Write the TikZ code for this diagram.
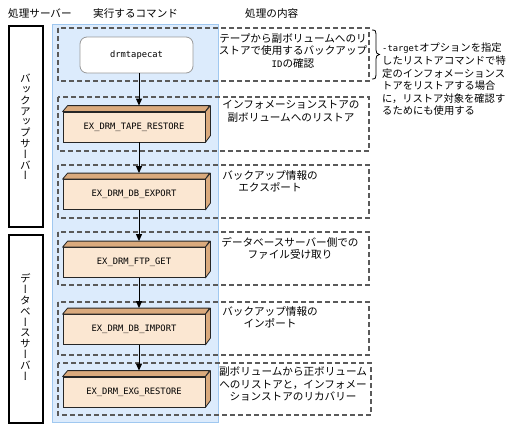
\documentclass[tikz,border=0pt]{standalone}
\usepackage{fontspec}
\setmainfont{Noto Sans CJK JP}
\newfontfamily\monofont{DejaVu Sans Mono}
\newfontfamily\vertfont[RawFeature=+vert]{Noto Sans CJK JP}
\usetikzlibrary{arrows.meta,calc}
\definecolor{bgblue}{RGB}{220,235,252}
\definecolor{bgborder}{RGB}{160,200,240}
\definecolor{peach}{RGB}{251,231,210}
\definecolor{tan}{RGB}{218,170,125}
\definecolor{dashgray}{RGB}{90,90,90}
\tikzset{
  txt/.style={inner sep=0pt, font=\fontsize{10.6pt}{12.5pt}\selectfont, align=center},
  cmd/.style={draw=black!85, fill=peach, line width=0.8pt, minimum width=142pt, minimum height=30pt, inner sep=0pt, font=\monofont\fontsize{8.8pt}{10pt}\selectfont},
  sidef/.style={draw=black!85, fill=tan, line width=0.8pt, line join=round},
  grp/.style={draw=dashgray, line width=1.1pt, dash pattern=on 5pt off 3pt},
  srv/.style={draw=black, fill=white, line width=1.4pt, minimum width=34pt, inner sep=0pt},
  vtxt/.style={inner sep=0pt, font=\vertfont\fontsize{10.6pt}{10.8pt}\selectfont, align=center},
  arr/.style={-{Triangle[length=7pt,width=6pt]}, line width=0.9pt},
  bracestyle/.style={draw=black, line width=0.8pt},
  startbox/.style={draw=black!40, fill=white, rounded corners=7pt, line width=0.8pt, minimum width=113pt, minimum height=36pt, inner sep=0pt, font=\monofont\fontsize{8.8pt}{10pt}\selectfont}
}
\newcommand{\cmdbox}[4]{%
  \node[cmd] (#1) at (#2,#3) {#4};
  \draw[sidef] (#1.north west) -- ++(5,-6) -- ++(142,0) -- ($(#1.north east)$) -- cycle;
  \draw[sidef] (#1.north east) -- ++(5,-6) -- ++(0,30) -- (#1.south east) -- cycle;
}
\begin{document}
\begin{tikzpicture}[x=1pt,y=-1pt]
\useasboundingbox (0,0) rectangle (518,426);
% headers
\node[txt, anchor=north west] (h1) at (8,8) {処理サーバー};
\node[txt, anchor=north west] (h2) at (93,8) {実行するコマンド};
\node[txt, anchor=north west] (h3) at (245,8) {処理の内容};
% server boxes
\node[srv, minimum height=201pt] (s1) at (26,126.5) {};
\node[vtxt] (s1t) at (25.5,127) {バ\\ッ\\ク\\ア\\ッ\\プ\\サ\\ー\\バ\\ー};
\node[srv, minimum height=188pt] (s2) at (26,329) {};
\node[vtxt] (s2t) at (25.5,327) {デ\\ー\\タ\\ベ\\ー\\ス\\サ\\ー\\バ\\ー};
% blue background
\draw[fill=bgblue, draw=bgborder, line width=0.8pt] (52,24) rectangle (218,422);
% groups
\draw[grp] (58,28) rectangle (369,81);
\draw[grp] (58,97) rectangle (369,151);
\draw[grp] (58,165) rectangle (369,218);
\draw[grp] (58,232) rectangle (369,285);
\draw[grp] (58,302) rectangle (369,355);
\draw[grp] (58,363) rectangle (371,415);
% commands
\node[startbox] (d) at (136.5,55) {drmtapecat};
\cmdbox{b1}{134}{127}{EX\_DRM\_TAPE\_RESTORE}
\cmdbox{b2}{134}{194.5}{EX\_DRM\_DB\_EXPORT}
\cmdbox{b3}{134}{262.5}{EX\_DRM\_FTP\_GET}
\cmdbox{b4}{134}{329.5}{EX\_DRM\_DB\_IMPORT}
\cmdbox{b5}{134}{392}{EX\_DRM\_EXG\_RESTORE}
% arrows
\coordinate (ax) at (139,0);
\draw[arr] (d.south -| ax) -- ($(b1.north -| ax)+(0,-6)$);
\draw[arr] (b1.south -| ax) -- ($(b2.north -| ax)+(0,-6)$);
\draw[arr] (b2.south -| ax) -- ($(b3.north -| ax)+(0,-6)$);
\draw[arr] (b3.south -| ax) -- ($(b4.north -| ax)+(0,-6)$);
\draw[arr] (b4.south -| ax) -- ($(b5.north -| ax)+(0,-6)$);
% descriptions
\node[txt, anchor=north] (t1) at (293,33) {テープから副ボリュームへのリ\\ストアで使用するバックアップ\\{\monofont\fontsize{9pt}{10pt}\selectfont ID}の確認};
\node[txt, anchor=north] (t2) at (291,100) {インフォメーションストアの\\副ボリュームへのリストア};
\node[txt, anchor=north] (t3) at (270,170) {バックアップ情報の\\エクスポート};
\node[txt, anchor=north] (t4) at (290,237) {データベースサーバー側での\\ファイル受け取り};
\node[txt, anchor=north] (t5) at (270,306) {バックアップ情報の\\インポート};
\node[txt, anchor=north] (t6) at (293,367) {副ボリュームから正ボリューム\\へのリストアと，インフォメー\\ションストアのリカバリー};
% brace and note
\coordinate (bt) at (372,30);
\coordinate (bb) at (372,79);
\draw[bracestyle] (bt) .. controls (375.5,30) and (376,31) .. (376,34) -- (376,50)
  .. controls (376,53) and (377,54) .. (379.5,54.5)
  .. controls (377,55) and (376,56) .. (376,59) -- (376,75)
  .. controls (376,78) and (375.5,79) .. (bb);
\node[txt, anchor=north west, align=left, font=\fontsize{10.3pt}{12.6pt}\selectfont] (note) at (382,43) {{\monofont\fontsize{8.8pt}{10pt}\selectfont -target}オプションを指定\\したリストアコマンドで特\\定のインフォメーションス\\トアをリストアする場合\\に，リストア対象を確認す\\るためにも使用する};
\end{tikzpicture}
\end{document}
